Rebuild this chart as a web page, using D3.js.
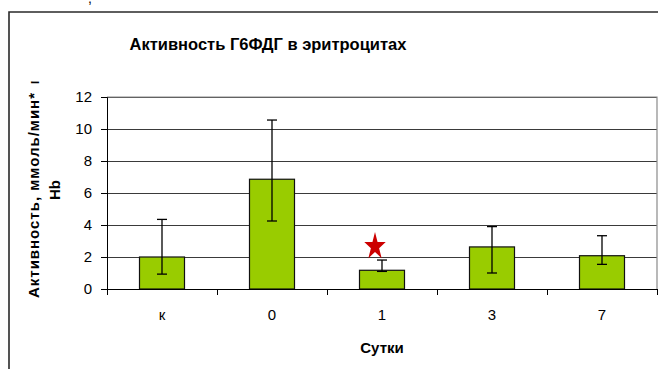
<!DOCTYPE html>
<html>
<head>
<meta charset="utf-8">
<script src="https://cdn.jsdelivr.net/npm/d3@7"></script>
<style>
  html, body { margin: 0; padding: 0; background: #fff; }
  svg { display: block; font-family: "Liberation Sans", Arial, sans-serif; }
</style>
</head>
<body>
<svg id="chart" width="658" height="369"></svg>
<script>
// Days after exposure and mean G6PDH activity with error bar ends
const categories = ["к", "0", "1", "3", "7"];
const means = [2.0, 6.86, 1.17, 2.63, 2.08];
const errHigh = [4.35, 10.56, 1.81, 3.9, 3.33];
const errLow = [0.93, 4.25, 1.1, 1.0, 1.54];
const yTicks = [0, 2, 4, 6, 8, 10, 12];
const markedCategory = "1";   // significant difference
const markedLevel = 2.66;     // star position on the value axis

const title = "Активность Г6ФДГ в эритроцитах";
const yTitleMain = "Активность, ммоль/мин*";
const yTitleTail = "г";
const yTitleSecond = "Hb";
const xTitle = "Сутки";

const svg = d3.select("#chart");
const plot = { left: 107, right: 657, top: 97, bottom: 289 };

const y = d3.scaleLinear().domain([0, 12]).range([plot.bottom, plot.top]);
const pad = 1 - 45 / 110;
const x = d3.scaleBand().domain(categories)
  .range([plot.left, plot.right]).paddingInner(pad).paddingOuter(pad / 2);
const xEdge = d3.scaleLinear().domain([0, categories.length]).range([plot.left, plot.right]);

// chart frame
svg.append("path")
  .attr("d", "M9,369 L9,12 L658,12")
  .attr("fill", "none").attr("stroke", "#2a2a2a").attr("stroke-width", 1.6);

// fragment of text above the frame
svg.append("text").attr("x", 88).attr("y", 3).attr("font-size", 14).text(",");

// title
svg.append("text")
  .attr("x", 268).attr("y", 50)
  .attr("text-anchor", "middle")
  .attr("font-size", 16.5).attr("font-weight", "bold")
  .text(title);

// horizontal gridlines
svg.append("g")
  .attr("transform", `translate(${plot.left},0)`)
  .call(d3.axisLeft(y).tickValues(yTicks).tickSize(-(plot.right - plot.left)).tickFormat(""))
  .call(g => g.select(".domain").remove())
  .call(g => g.selectAll("line").attr("stroke", "#3a3a3a").attr("stroke-width", 1));

// plot area border (top and right)
svg.append("path")
  .attr("d", `M${plot.left},${y(12)} L${plot.right},${y(12)} L${plot.right},${plot.bottom}`)
  .attr("fill", "none").attr("stroke", "#8a8a8a").attr("stroke-width", 1.2);

// bars
svg.append("g").selectAll("rect")
  .data(categories)
  .join("rect")
  .attr("x", (d) => x(d))
  .attr("width", x.bandwidth())
  .attr("y", (d, i) => y(means[i]))
  .attr("height", (d, i) => y(0) - y(means[i]))
  .attr("fill", "#99cc00")
  .attr("stroke", "#111")
  .attr("stroke-width", 1.2);

// error bars
const eb = svg.append("g").attr("stroke", "#000").attr("stroke-width", 1.3);
categories.forEach((c, i) => {
  const cx = x(c) + x.bandwidth() / 2;
  eb.append("line").attr("x1", cx).attr("x2", cx).attr("y1", y(errHigh[i])).attr("y2", y(errLow[i]));
  [errHigh[i], errLow[i]].forEach(v => {
    eb.append("line").attr("x1", cx - 5).attr("x2", cx + 5).attr("y1", y(v)).attr("y2", y(v));
  });
});

// significance star
svg.append("path")
  .attr("d", d3.symbol(d3.symbolStar, 235)())
  .attr("transform", `translate(${x(markedCategory) + x.bandwidth() / 2 - 7},${y(markedLevel)}) scale(0.78,1)`)
  .attr("fill", "#cc0000");

// value axis
svg.append("g")
  .attr("transform", `translate(${plot.left},0)`)
  .call(d3.axisLeft(y).tickValues(yTicks).tickSize(6).tickPadding(9))
  .call(g => g.selectAll("text").attr("font-size", 15).attr("fill", "#000").attr("font-family", "Liberation Sans, Arial, sans-serif"))
  .call(g => g.selectAll("line, path").attr("stroke", "#000"));

// category axis: ticks at category boundaries
svg.append("g")
  .attr("transform", `translate(0,${plot.bottom})`)
  .call(d3.axisBottom(xEdge).tickValues(d3.range(categories.length + 1)).tickSize(6).tickFormat(""))
  .call(g => g.selectAll("line, path").attr("stroke", "#000"));

// category labels
svg.append("g")
  .attr("transform", `translate(0,${plot.bottom})`)
  .call(d3.axisBottom(x).tickSize(0).tickPadding(20))
  .call(g => g.select(".domain").remove())
  .call(g => g.selectAll("text").attr("font-size", 15).attr("fill", "#000").attr("font-family", "Liberation Sans, Arial, sans-serif"));

// axis titles
svg.append("text")
  .attr("x", (plot.left + plot.right) / 2).attr("y", 353)
  .attr("text-anchor", "middle")
  .attr("font-size", 15).attr("font-weight", "bold")
  .text(xTitle);

// the value-axis title is clipped at its top end
svg.append("defs").append("clipPath").attr("id", "ytclip")
  .append("rect").attr("x", 0).attr("y", 81.6).attr("width", 100).attr("height", 289);

const yt = svg.append("g").attr("clip-path", "url(#ytclip)")
  .attr("font-size", 15).attr("font-weight", "bold");
yt.append("text")
  .attr("transform", "translate(39,298) rotate(-90)")
  .attr("textLength", 205).attr("lengthAdjust", "spacing")
  .text(yTitleMain);
yt.append("text")
  .attr("transform", "translate(39,84.3) rotate(-90)")
  .text(yTitleTail);
yt.append("text")
  .attr("transform", "translate(60,190) rotate(-90)")
  .attr("text-anchor", "middle")
  .text(yTitleSecond);
</script>
</body>
</html>
